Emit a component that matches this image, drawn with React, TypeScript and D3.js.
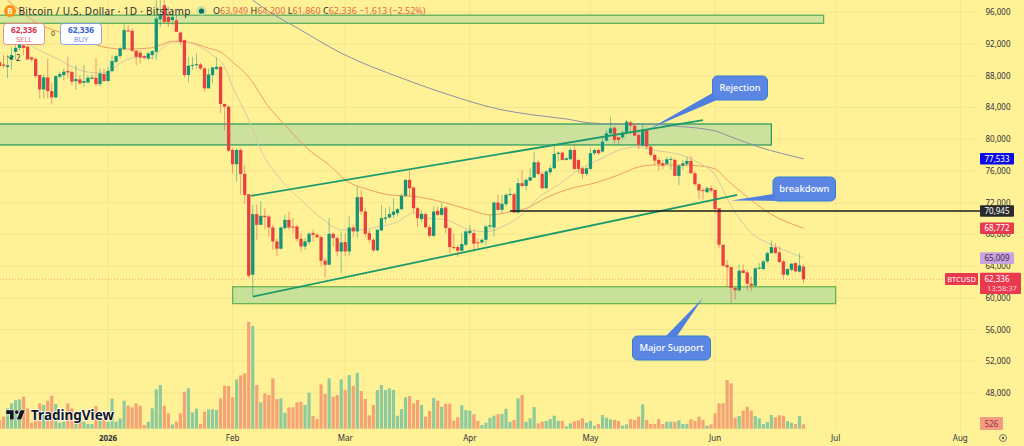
import * as d3 from 'd3';

const startDate = new Date(Date.UTC(2025, 11, 5));
const lastDate = new Date(Date.UTC(2026, 5, 23));

// daily candles: open, high, low, close
const ohlc: number[][] = [
    [89700, 90600, 89000, 89200], [89400, 90600, 88950, 89250], [89100, 90600, 87700, 89300], [90000, 91600, 88700, 90600],
    [91000, 92000, 90000, 91500], [91500, 93000, 91200, 92200], [91800, 92700, 90600, 91500], [91640, 92060, 90050, 90050],
    [90300, 90380, 89750, 90050], [90090, 90300, 87650, 87950], [88080, 88080, 85140, 86270], [86270, 88080, 85140, 87780],
    [87780, 90170, 85140, 86060], [86060, 87030, 84390, 85270], [85270, 88000, 85140, 87950], [87870, 88500, 87660, 88200],
    [88080, 88910, 87450, 88500], [88580, 90380, 87660, 88410], [88450, 88700, 86820, 87240], [87320, 89330, 86270, 87570],
    [87530, 88080, 86820, 87030], [87110, 89330, 86610, 87320], [87150, 88080, 87030, 87740], [87610, 88200, 87530, 87780],
    [87740, 90170, 86690, 86940], [86940, 88910, 86690, 88290], [88200, 88910, 87240, 87320], [87320, 89120, 87240, 88620],
    [88580, 90590, 88410, 89840], [89750, 90680, 89540, 90470], [90470, 91640, 90170, 91430], [91350, 94570, 91220, 93740],
    [93700, 94360, 93530, 93660], [93650, 93950, 91010, 91140], [91140, 91220, 89330, 90380], [90900, 91220, 89540, 90300],
    [90470, 90590, 90050, 90260], [90170, 91010, 89960, 90800], [90590, 91220, 90050, 91090], [91010, 97510, 89960, 95200],
    [95100, 97510, 94150, 95700], [96880, 97500, 94570, 94780], [95400, 96670, 94150, 94780], [95000, 96250, 94360, 95400],
    [94990, 95620, 93530, 93530], [93440, 93530, 91850, 92270], [92480, 92560, 87780, 88080], [88080, 90380, 87150, 89250],
    [89250, 90380, 88700, 89350], [89330, 90800, 88910, 89450], [89420, 89630, 88700, 88910], [88910, 89120, 85980, 86400],
    [86400, 88910, 86400, 88160], [88080, 89120, 87030, 89040], [88830, 90300, 88700, 89120], [89120, 89200, 83250, 84430],
    [84430, 84500, 81150, 84090], [84090, 84300, 78430, 78550], [78640, 78850, 75700, 76840], [76840, 78850, 74660, 78640],
    [78640, 78850, 72980, 75620], [75620, 76750, 71850, 72980], [73060, 73060, 62500, 62790], [62920, 71720, 60270, 70550],
    [70550, 71720, 67320, 69200], [69200, 72140, 69200, 70340], [70340, 71300, 68580, 70170], [70250, 70460, 67740, 68870],
    [68870, 69200, 66060, 67110], [67110, 67530, 65300, 66190], [66190, 68990, 66060, 68870], [68790, 70460, 68580, 69830],
    [69830, 70880, 68580, 68870], [68970, 70040, 68160, 68900], [68990, 69200, 67110, 67440], [67440, 68160, 65850, 66480],
    [66480, 67530, 66060, 67110], [67030, 68370, 66690, 68070], [68160, 68580, 67110, 67950], [67950, 68160, 67530, 67650],
    [67650, 67820, 63960, 64680], [64680, 65010, 62500, 64170], [64170, 70040, 64170, 68070], [68070, 68240, 66480, 67530],
    [67530, 67820, 65220, 65850], [65850, 68370, 63120, 66980], [67030, 68160, 65300, 65850], [65850, 70250, 65300, 68870],
    [68870, 69200, 67650, 68370], [68370, 74030, 67530, 72690], [72690, 73610, 70460, 70880], [70880, 71300, 67650, 68070],
    [68160, 68580, 66900, 67320], [67320, 67530, 65730, 65980], [65980, 68660, 65850, 68580], [68490, 71720, 68370, 70040],
    [69960, 71300, 69420, 70130], [70130, 71510, 70040, 70550], [70460, 72560, 70040, 70880], [70670, 71300, 70250, 71180],
    [71180, 73190, 71010, 72850], [72850, 74950, 72770, 74870], [74870, 76040, 72770, 73820], [73900, 74030, 70670, 71300],
    [71300, 71510, 68910, 70040], [69920, 71090, 69500, 70590], [70550, 70760, 68660, 68910], [68910, 69200, 67530, 67820],
    [67820, 71510, 67650, 70880], [70970, 71510, 70340, 70460], [70460, 72010, 70250, 71300], [71390, 71510, 68160, 68790],
    [68790, 68910, 65640, 66400], [66400, 68160, 66060, 66270], [66400, 66690, 65140, 65940], [65940, 68160, 65850, 66780],
    [66690, 68580, 66480, 68370], [68160, 69200, 67950, 68450], [68160, 68580, 65850, 66820], [67000, 67530, 66270, 66900],
    [66980, 67530, 66820, 67320], [67320, 69200, 66690, 68990], [68990, 70460, 68580, 69150], [68870, 72140, 67740, 72010],
    [72010, 72980, 70970, 71090], [71090, 72980, 70670, 71850], [71800, 73190, 71510, 72980], [72980, 73820, 72770, 73100],
    [73060, 73270, 70670, 70760], [70760, 75080, 70590, 74450], [74450, 76120, 73940, 74110], [74110, 75080, 73530, 74870],
    [74780, 76330, 74660, 75200], [75160, 78430, 75080, 77090], [77090, 77380, 75500, 75620], [75620, 75920, 73690, 73820],
    [73820, 76120, 73690, 75920], [75830, 76750, 75500, 76330], [76330, 79270, 76210, 78140], [78140, 78430, 77170, 78290],
    [78300, 78430, 77300, 77380], [77380, 77800, 77300, 77590], [77470, 78930, 77380, 78640], [78640, 79480, 76120, 76250],
    [77380, 77470, 75710, 76250], [76330, 76540, 74950, 75620], [75620, 76540, 75370, 76330], [76250, 78850, 76120, 78220],
    [78220, 78850, 78010, 78640], [78640, 78850, 78010, 78220], [78430, 80110, 78300, 79690], [79810, 81160, 79690, 80740],
    [80740, 82830, 80530, 81370], [81450, 81580, 79480, 79900], [80230, 80320, 79270, 79900], [80230, 81070, 79980, 80820],
    [80740, 82410, 80530, 82200], [82120, 82330, 80530, 81700], [81700, 81910, 80320, 80440], [80530, 81160, 78720, 79270],
    [79190, 81910, 79060, 81160], [81160, 81240, 78720, 79060], [79060, 79140, 77800, 78010], [78010, 78220, 76750, 77300],
    [77380, 77720, 76040, 76880], [76960, 77380, 76210, 76670], [76880, 77800, 76750, 77470], [77430, 77800, 76120, 77510],
    [77380, 77590, 75290, 75370], [75370, 76750, 74240, 76670], [76670, 77380, 76120, 76960], [76880, 77800, 76540, 77260],
    [77260, 77890, 75620, 75710], [75710, 75920, 74110, 74320], [74320, 74450, 72430, 73530], [73570, 73820, 72350, 73490],
    [73320, 74030, 73190, 73820], [73820, 74110, 73270, 73530], [73610, 73610, 70670, 71180], [71300, 71300, 66270, 66690],
    [66690, 66690, 63880, 64050], [64130, 64800, 61450, 63840], [63880, 63880, 59350, 61240], [61240, 61450, 59770, 60950],
    [60950, 64170, 60820, 63420], [63460, 64170, 63130, 63130], [63210, 63550, 60900, 61780], [61780, 62700, 60820, 61530],
    [61530, 63880, 61450, 63710], [63710, 64380, 63550, 63800], [63630, 64800, 63460, 64590], [64590, 65850, 64380, 65640],
    [65640, 67240, 65560, 66400], [66350, 66900, 65560, 65640], [65730, 66480, 64380, 64510], [64590, 64800, 62370, 62920],
    [62920, 63750, 62700, 63630], [63550, 64380, 63340, 64300], [64380, 64470, 63210, 63340], [63300, 65640, 63210, 64090],
    [63949, 64200, 61860, 62336],
];

const volumes = [
    1040, 1440, 2440, 3040, 3440, 3520, 3840, 2440, 720, 1040, 3040, 2840, 3360, 3960, 2960, 720, 840, 3040, 2440, 1440,
    840, 840, 560, 560, 2720, 1040, 1040, 840, 3600, 840, 1240, 3360, 2760, 2560, 3040, 2760, 440, 840, 2440, 4720,
    5240, 2760, 1840, 520, 840, 1840, 4440, 4840, 1960, 2400, 560, 2040, 2320, 2320, 2240, 3640, 5160, 5120, 3760, 5920,
    6400, 6640, 12840, 12320, 5240, 3160, 4240, 4040, 6040, 3560, 3640, 1920, 2560, 2560, 3160, 3240, 2840, 4320, 1520, 1160,
    5320, 4160, 6040, 3840, 4040, 5920, 4640, 6440, 5120, 6720, 4520, 3560, 1600, 2840, 4640, 5240, 4640, 4840, 4640, 1560,
    2360, 3760, 3920, 3040, 3440, 2840, 1440, 2120, 3680, 3360, 2640, 3000, 3000, 960, 1360, 2800, 2240, 2160, 1720, 920,
    440, 720, 1320, 1560, 1720, 1760, 2400, 840, 1040, 3640, 4040, 840, 1240, 2600, 640, 840, 920, 1160, 1560, 960,
    920, 280, 640, 880, 1000, 1240, 720, 920, 360, 560, 1640, 1320, 1120, 1040, 920, 360, 520, 1160, 1040, 1440,
    2920, 1040, 560, 560, 1160, 560, 840, 840, 840, 1000, 560, 560, 1120, 920, 1440, 1040, 360, 520, 1840, 3040,
    3040, 5840, 5440, 1320, 1520, 2160, 2640, 2160, 1520, 1240, 560, 800, 1640, 1360, 1600, 1560, 920, 720, 560, 1520,
    526,
];

// moving averages as [candle index, price]
const fastMa = [
    [4, 93100], [9, 91470], [15, 89960], [20, 88700], [25, 88330], [27, 88450], [30, 89580], [35, 90340], [38, 90210],
    [40, 91220], [43, 92230], [46, 92230], [50, 91600], [53, 90590], [56, 89080], [58, 86570], [62, 82410], [65, 78640],
    [70, 74870], [75, 72350], [80, 70090], [85, 68580], [90, 68580], [94, 68950], [99, 69580], [103, 70710], [106, 70090],
    [111, 69830], [117, 68580], [121, 68320], [125, 68950], [130, 70460], [134, 72600], [139, 74240], [144, 76120],
    [149, 77380], [156, 78890], [159, 79020], [162, 78640], [166, 78390], [171, 77760], [174, 77000], [178, 75490],
    [182, 71590], [187, 68200], [191, 66940], [195, 66060], [200, 65009],
];
const midMa = [
    [2, 97510], [5, 96250], [9, 94740], [15, 93480], [20, 92730], [26, 91600], [31, 91350], [37, 91470], [40, 91850],
    [43, 92350], [47, 92230], [52, 91470], [55, 90970], [58, 89710], [62, 87820], [67, 84050], [71, 81780], [77, 78640],
    [82, 76750], [86, 74870], [92, 73610], [97, 72980], [104, 72730], [110, 72100], [117, 71090], [122, 70460], [127, 70840],
    [132, 71470], [135, 72350], [141, 73610], [149, 74610], [154, 75490], [159, 76500], [163, 76750], [169, 76750],
    [174, 76630], [178, 76250], [181, 74860], [186, 72730], [191, 70840], [200, 68772],
];
const slowMa = [
    [63, 97510], [67, 96100], [75, 93740], [85, 90840], [100, 87700], [112, 85560], [124, 83800], [133, 83040], [141, 82540],
    [147, 82040], [154, 81910], [162, 81910], [168, 81660], [178, 81030], [182, 80280], [189, 79000], [200, 77533],
];

const priceTicks = [96000, 92000, 88000, 84000, 80000, 76000, 72000, 68000, 64000, 60000, 56000, 52000, 48000];
const monthLabels = ['2026', 'Feb', 'Mar', 'Apr', 'May', 'Jun', 'Jul', 'Aug'];
const monthStarts = monthLabels.map((_, k) => new Date(Date.UTC(2026, k, 1)));

// drawings, candle index and price
const zones = [
    { from: -2, to: 205, top: 95620, bottom: 94600, fill: '#d6e59c', stroke: '#5fae5a' },
    { from: -2, to: 192, top: 81910, bottom: 79270, fill: '#cbe19c', stroke: '#2f9f63' },
    { from: 58, to: 208, top: 61400, bottom: 59270, fill: '#c7e198', stroke: '#6cb44d' },
];
const trendLines = [
    [[62.5, 72850], [175, 82410]],
    [[63, 60150], [183.5, 72980]],
];

const priceLabels = [
    { text: '77,533', price: 77533, fill: '#0a0ae6', color: '#ffffff' },
    { text: '70,945', price: 70945, fill: '#2b2b2b', color: '#ffffff' },
    { text: '68,772', price: 68772, fill: '#e8394f', color: '#ffffff' },
    { text: '65,009', price: 65009, fill: '#c9a2e0', color: '#3a2a4a' },
];

const callouts = [
    { text: 'Rejection', x: 712.5, y: 76, w: 55, h: 24, tail: '712.5,93 650,128.5 717,100' },
    { text: 'breakdown', x: 773, y: 177, w: 62.5, h: 24, tail: '773,194 731.5,200.5 778,201' },
    { text: 'Major Support', x: 632.5, y: 336, w: 78, h: 24, tail: '666,336 703,298 677,336' },
];

const upColor = '#12967a';
const downColor = '#e8413f';
const font = '"Noto Sans", sans-serif';

export default function App() {
    const dayOf = (i: number) => d3.utcDay.offset(startDate, i);
    const xScale = d3.scaleUtc().domain([startDate, lastDate]).range([-0.5, 803.5]);
    const yScale = d3.scaleLinear().domain([44000, 96000]).range([424.8, 12.2]);
    const volScale = d3.scaleLinear().domain([0, 12840]).range([428.7, 321.7]);
    const xAt = (i: number) => xScale(d3.utcHour.offset(startDate, i * 24));

    const maLine = d3
        .line<number[]>()
        .x((d) => xAt(d[0]))
        .y((d) => yScale(d[1]))
        .curve(d3.curveMonotoneX);

    return (
        <svg
            width={1024}
            height={446}
            style={{ position: 'absolute', left: 0, top: 0, display: 'block', background: '#fff195' }}
            fontFamily={font}
        >
            {/* grid */}
            {priceTicks.map((t) => (
                <line key={t} x1={0} x2={978} y1={yScale(t)} y2={yScale(t)} stroke="#f3e68f" strokeWidth={1} />
            ))}
            {monthStarts.map((d, k) => (
                <line key={k} x1={xScale(d)} x2={xScale(d)} y1={0} y2={430} stroke="#f3e68f" strokeWidth={1} />
            ))}

            {/* volume */}
            {volumes.map((v, i) => (
                <rect
                    key={i}
                    x={xScale(dayOf(i)) - 1.6}
                    y={volScale(v)}
                    width={3.2}
                    height={volScale(0) - volScale(v)}
                    fill={ohlc[i][3] >= ohlc[i][0] ? '#8fca9c' : '#f5a374'}
                />
            ))}

            {/* last price line */}
            <line
                x1={0}
                x2={945}
                y1={yScale(62336)}
                y2={yScale(62336)}
                stroke="#e8a070"
                strokeWidth={0.8}
                strokeDasharray="1 2"
            />

            {/* zones under the candles */}
            {zones.map((z, k) => (
                <rect
                    key={k}
                    x={xAt(z.from)}
                    y={yScale(z.top)}
                    width={xAt(z.to) - xAt(z.from)}
                    height={yScale(z.bottom) - yScale(z.top)}
                    fill={z.fill}
                    stroke={z.stroke}
                    strokeWidth={1.3}
                />
            ))}

            {/* moving averages */}
            <path d={maLine(slowMa) ?? ''} fill="none" stroke="#8f8fa8" strokeWidth={1} />
            <path d={maLine(midMa) ?? ''} fill="none" stroke="#ee9f63" strokeWidth={1} />
            <path d={maLine(fastMa) ?? ''} fill="none" stroke="#d8c9a4" strokeWidth={1} />

            {/* candles */}
            {ohlc.map(([o, h, l, c], i) => {
                const x = xScale(dayOf(i));
                const color = c >= o ? upColor : downColor;
                const top = yScale(Math.max(o, c));
                const bottom = yScale(Math.min(o, c));
                return (
                    <g key={i}>
                        <line x1={x} x2={x} y1={yScale(h)} y2={yScale(l)} stroke={color} strokeWidth={0.7} opacity={0.7} />
                        <rect x={x - 1.65} y={top} width={3.3} height={Math.max(bottom - top, 1)} fill={color} />
                    </g>
                );
            })}

            {/* trend lines */}
            {trendLines.map((pts, k) => (
                <line
                    key={k}
                    x1={xAt(pts[0][0])}
                    y1={yScale(pts[0][1])}
                    x2={xAt(pts[1][0])}
                    y2={yScale(pts[1][1])}
                    stroke="#1c9a6c"
                    strokeWidth={1.8}
                />
            ))}
            <line x1={xAt(127)} x2={980} y1={yScale(70945)} y2={yScale(70945)} stroke="#1e1e1e" strokeWidth={1.6} />

            {/* callouts */}
            {callouts.map((c) => (
                <g key={c.text}>
                    <rect x={c.x} y={c.y} width={c.w} height={c.h} rx={5} fill="#5b86e3" stroke="#2f80d2" strokeWidth={1} />
                    <polygon points={c.tail} fill="#4f80e0" />
                    <text x={c.x + c.w / 2} y={c.y + c.h / 2 + 3} textAnchor="middle" fontSize={9.3} fill="#ffffff" fontWeight={500}>
                        {c.text}
                    </text>
                </g>
            ))}

            {/* header */}
            <circle cx={10} cy={11} r={6} fill="#f7931a" />
            <text x={10} y={14} textAnchor="middle" fontSize={8} fontWeight={700} fill="#fff3d0">
                B
            </text>
            <text x={18.5} y={14.5} fontSize={10} fill="#2a2e39" letterSpacing={0.3}>
                Bitcoin / U.S. Dollar · 1D · Bitstamp
            </text>
            <circle cx={201.5} cy={11} r={5} fill="#9fd8b0" opacity={0.6} />
            <circle cx={201.5} cy={11} r={2.6} fill="#0d6e5c" />
            <text x={213} y={14} fontSize={9} fill="#e2694a">
                <tspan fill="#2a2e39">O</tspan>63,949 <tspan fill="#2a2e39">H</tspan>64,200{' '}
                <tspan fill="#2a2e39">L</tspan>61,860 <tspan fill="#2a2e39">C</tspan>62,336 −1,613 (−2.52%)
            </text>

            {/* buy and sell buttons */}
            <rect x={3.5} y={23.5} width={41} height={21} rx={3} fill="#ffffff" stroke="#e0777f" strokeWidth={0.8} />
            <text x={24} y={32.5} textAnchor="middle" fontSize={8.3} fontWeight={700} fill="#d8334a">
                62,336
            </text>
            <text x={24} y={41.5} textAnchor="middle" fontSize={7.5} fill="#e0717f">
                SELL
            </text>
            <text x={53} y={36} textAnchor="middle" fontSize={7} fill="#2a2e39">
                0
            </text>
            <rect x={60.5} y={23.5} width={41} height={21} rx={3} fill="#ffffff" stroke="#6f92d8" strokeWidth={0.8} />
            <text x={81} y={32.5} textAnchor="middle" fontSize={8.3} fontWeight={700} fill="#2f62d0">
                62,336
            </text>
            <text x={81} y={41.5} textAnchor="middle" fontSize={7.5} fill="#6f92e0">
                BUY
            </text>
            <path d="M7.5 56 L10.5 59 L13.5 56" fill="none" stroke="#2a2e39" strokeWidth={0.9} />
            <text x={16} y={61} fontSize={8} fill="#2a2e39">
                2
            </text>

            {/* price axis */}
            {priceTicks.map((t) => (
                <text key={t} x={998} y={yScale(t) + 3} textAnchor="middle" fontSize={8} fill="#2f3240">
                    {d3.format(',')(t)}
                </text>
            ))}
            {priceLabels.map((p) => (
                <g key={p.text}>
                    <rect x={980} y={yScale(p.price) - 5.8} width={34} height={11.6} rx={1} fill={p.fill} />
                    <text x={997} y={yScale(p.price) + 2.8} textAnchor="middle" fontSize={8} fill={p.color}>
                        {p.text}
                    </text>
                </g>
            ))}
            <rect x={945} y={273} width={33} height={12} rx={1} fill="#e8394f" />
            <text x={961.5} y={282} textAnchor="middle" fontSize={7.5} fill="#ffffff">
                BTCUSD
            </text>
            <rect x={980} y={272.7} width={41} height={21.3} rx={1} fill="#e8394f" />
            <text x={997} y={282} textAnchor="middle" fontSize={8} fill="#ffffff">
                62,336
            </text>
            <text x={1002} y={291} textAnchor="middle" fontSize={7.5} fill="#ffd0d4">
                13:58:37
            </text>
            <rect x={980} y={417} width={23} height={13} rx={1} fill="#f29c86" />
            <text x={991.5} y={426.5} textAnchor="middle" fontSize={8} fill="#a02c2c">
                526
            </text>

            {/* time axis */}
            {monthStarts.map((d, k) => (
                <text
                    key={k}
                    x={xScale(d)}
                    y={441}
                    textAnchor="middle"
                    fontSize={8}
                    fontWeight={k === 0 ? 700 : 400}
                    fill="#2f3240"
                >
                    {monthLabels[k]}
                </text>
            ))}
            <circle cx={1003} cy={438} r={3.5} fill="none" stroke="#5a5a50" strokeWidth={0.8} />
            <circle cx={1003} cy={438} r={1.2} fill="#5a5a50" />

            {/* watermark */}
            <g transform="translate(5,406.5) scale(0.62)">
                <path
                    d="M14 6H2v6h6v9h6V6Zm12 15h-7l6-15h7l-6 15Zm-7-9a3 3 0 1 0 0-6 3 3 0 0 0 0 6Z"
                    fill="#131722"
                    stroke="#ffffff"
                    strokeWidth={1.5}
                    paintOrder="stroke"
                />
            </g>
            <text
                x={31}
                y={420}
                fontSize={13.5}
                fontWeight={700}
                fill="#131722"
                stroke="#ffffff"
                strokeWidth={1.5}
                paintOrder="stroke"
            >
                TradingView
            </text>
        </svg>
    );
}
